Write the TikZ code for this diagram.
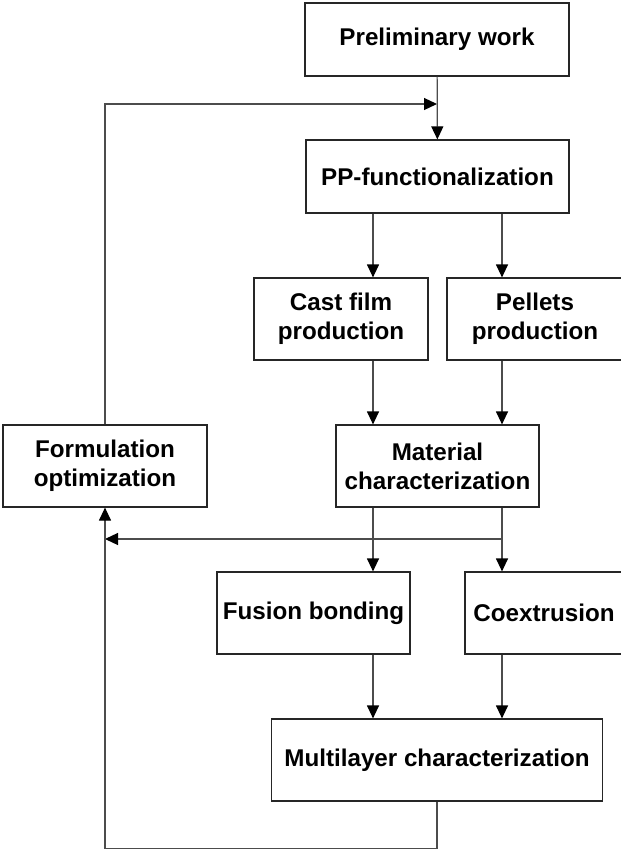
\documentclass[tikz,border=0pt]{standalone}
\usepackage{fontspec}
\setmainfont{Liberation Sans}
\usepackage{tikz}
\usetikzlibrary{
		calc,
		arrows.meta,
		positioning
	}
\tikzset{
		stepbox/.style={draw=black!85,line width=1.2pt,fill=white,align=center,inner sep=0pt,
			font=\fontsize{24.2}{29}\selectfont\bfseries},
		link/.style={draw=black!70,line width=1.2pt,-{Triangle[length=13pt,width=12pt,color=black]}}
	}
\begin{document}
\begin{tikzpicture}[x=1pt,y=-1pt]
          \useasboundingbox (0,0) rectangle (621,849);
          \clip (0,0) rectangle (621,849);

          \coordinate (L) at (373,0);
          \coordinate (R) at (502,0);
          \coordinate (top) at (437,104);
          \coordinate (mid) at (0,539);

          \node[stepbox,minimum width=264pt,minimum height=73pt] (prelim) at (437,39.5) {Preliminary work};
          \node[stepbox,minimum width=263pt,minimum height=73pt] (pp) at (437.5,176.5) {PP-functionalization};
          \node[stepbox,minimum width=174pt,minimum height=82pt] (cast) at (341,319) {Cast film\\production};
          \node[stepbox,minimum width=176pt,minimum height=82pt] (pellets) at (535,319) {Pellets\\production};
          \node[stepbox,minimum width=204pt,minimum height=82pt] (formul) at (105,466) {Formulation\\optimization};
          \node[stepbox,minimum width=203pt,minimum height=82pt] (material) at (437.5,466) {Material\\characterization};
          \node[stepbox,minimum width=193pt,minimum height=82pt] (fusion) at (313.5,613) {Fusion bonding};
          \node[stepbox,minimum width=158pt,minimum height=82pt] (coext) at (544,613) {Coextrusion};
          \node[stepbox,minimum width=331pt,minimum height=82pt] (multi) at (437,760) {Multilayer characterization};

          \draw[link] (prelim) -- (pp);
          \draw[link] (formul.north) |- (top);% loop back to the start

          \draw[link] (pp.south -| L) -- (cast.north -| L);
          \draw[link] (pp.south -| R) -- (pellets.north -| R);
          \draw[link] (cast.south -| L) -- (material.north -| L);
          \draw[link] (pellets.south -| R) -- (material.north -| R);

          \draw[link] (material.south -| L) -- (fusion.north -| L);
          \draw[link] (material.south -| R) -- (coext.north -| R);
          \draw[link] (R |- mid) -- (formul.south |- mid);

          \draw[link] (fusion.south -| L) -- (multi.north -| L);
          \draw[link] (coext.south -| R) -- (multi.north -| R);
          \draw[link] (multi.south) -- ++(0,47) -| (formul.south);% second loop
\end{tikzpicture}
\end{document}
